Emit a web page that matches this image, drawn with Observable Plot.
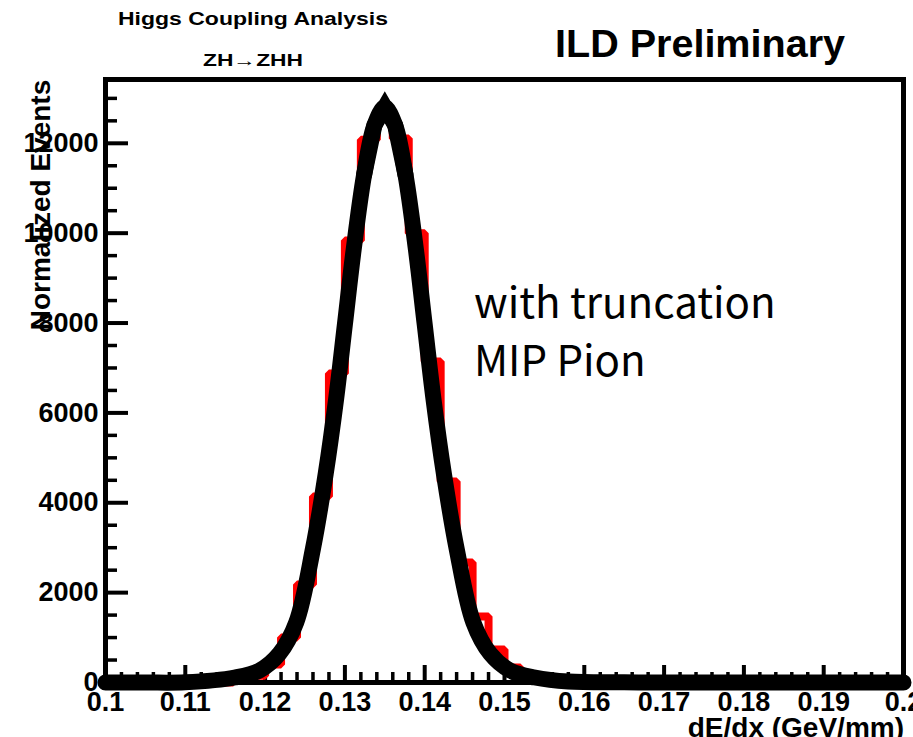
<!DOCTYPE html>
<html>
<head>
<meta charset="utf-8">
<script src="https://cdn.jsdelivr.net/npm/d3@7"></script>
<script src="https://cdn.jsdelivr.net/npm/@observablehq/plot@0.6"></script>
<style>
  html, body { margin: 0; padding: 0; background: white; }
  #wrap { position: relative; width: 913px; height: 737px; overflow: hidden; }
  #overlay { position: absolute; left: 0; top: 0; pointer-events: none; }
</style>
</head>
<body>
<div id="wrap"></div>
<script>
// ---- data ----
// red histogram: lower bin edges and bin contents (bin width 0.002)
const binLow   = [0.114, 0.116, 0.118, 0.120, 0.122, 0.124, 0.126, 0.128, 0.130, 0.132, 0.134, 0.136, 0.138, 0.140, 0.142, 0.144, 0.146, 0.148, 0.150, 0.152, 0.154, 0.156];
const binCount = [0,     50,    150,   400,   1000,  2180,  4139,  6876,  9835,  12080, 12706, 12105, 10000, 7143,  4472,  2670,  1469,  734,   334,   130,   50,    0];

// black Gaussian fit curve
const fitX = [0.100, 0.105, 0.110, 0.1162, 0.1193, 0.1218, 0.1239, 0.1260, 0.1276, 0.1289, 0.1300, 0.1311, 0.1324, 0.1337, 0.1350, 0.1363, 0.1376, 0.1389, 0.1400, 0.1411, 0.1424, 0.1440, 0.1461, 0.1482, 0.1507, 0.1538, 0.158, 0.165, 0.170, 0.200];
const fitY = [0,     0,     5,     111,    267,    644,    1335,   2980,   4650,   6310,   7970,   9635,   11290,  12400,  12800,  12400,  11290,  9635,   7970,   6310,   4650,   2980,   1335,   644,    267,    111,    20,    3,     0,     0];

// axis ticks and labels
const yMajor = [0, 2000, 4000, 6000, 8000, 10000, 12000];
const yMinor = [500, 1000, 1500, 2500, 3000, 3500, 4500, 5000, 5500, 6500, 7000, 7500, 8500, 9000, 9500, 10500, 11000, 11500, 12500, 13000];
const xMajor = [0.1, 0.11, 0.12, 0.13, 0.14, 0.15, 0.16, 0.17, 0.18, 0.19, 0.2];
const xMinor = [0.102, 0.104, 0.106, 0.108, 0.112, 0.114, 0.116, 0.118, 0.122, 0.124, 0.126, 0.128, 0.132, 0.134, 0.136, 0.138, 0.142, 0.144, 0.146, 0.148, 0.152, 0.154, 0.156, 0.158, 0.162, 0.164, 0.166, 0.168, 0.172, 0.174, 0.176, 0.178, 0.182, 0.184, 0.186, 0.188, 0.192, 0.194, 0.196, 0.198];

const titleTop = "Higgs Coupling Analysis";
const titleSub = "ZH\u2192ZHH";
const titleRight = "ILD Preliminary";
const yLabel = "Normalized Events";
const xLabel = "dE/dx (GeV/mm)";
const note1 = "with truncation";
const note2 = "MIP Pion";

// ---- build ----
const W = 913, H = 737;
const mL = 105, mR = 10, mT = 79, mB = 55;
const fw = W - mL - mR, fh = H - mT - mB;

const histPts = [{x: 0.1, y: 0}, ...binLow.map((x, i) => ({x, y: binCount[i]})), {x: 0.2, y: 0}];
const fitPts = fitX.map((x, i) => ({x, y: fitY[i]}));
// the polyline tip of the fit (its sampled apex), drawn straight so the top stays pointed
const peakIdx = fitY.indexOf(d3.max(fitY));
const tipPts = fitPts.slice(peakIdx - 2, peakIdx + 3);

const font = "'Liberation Sans', Arial, Helvetica, sans-serif";

const chart = Plot.plot({
  width: W, height: H,
  marginLeft: mL, marginRight: mR, marginTop: mT, marginBottom: mB,
  x: {domain: [0.1, 0.2]},
  y: {domain: [0, 13420]},
  style: {fontFamily: font, background: "white", color: "black", overflow: "visible"},
  marks: [
    Plot.tickY(yMajor, {y: d => d, stroke: "black", strokeWidth: 4, insetRight: fw - 23}),
    Plot.tickY(yMinor, {y: d => d, stroke: "black", strokeWidth: 3.5, insetRight: fw - 12}),
    Plot.tickX(xMajor, {x: d => d, stroke: "black", strokeWidth: 4, insetTop: fh - 17}),
    Plot.tickX(xMinor, {x: d => d, stroke: "black", strokeWidth: 3.5, insetTop: fh - 10}),
    Plot.axisY({ticks: yMajor, tickSize: 0, tickPadding: 7, fontSize: 27, fontWeight: "bold", tickFormat: d => String(d), label: null}),
    Plot.axisX({ticks: xMajor, tickSize: 0, tickPadding: 9, fontSize: 27, fontWeight: "bold", tickFormat: d => String(d), label: null}),
    Plot.line(histPts, {x: "x", y: "y", curve: "step-after", stroke: "#ff0000", strokeWidth: 8, strokeLinejoin: "miter"}),
    Plot.line(fitPts, {x: "x", y: "y", curve: "catmull-rom", stroke: "black", strokeWidth: 16, strokeLinejoin: "round"}),
    Plot.line(tipPts, {x: "x", y: "y", curve: "linear", stroke: "black", strokeWidth: 16, strokeLinejoin: "miter", strokeMiterlimit: 10}),
    Plot.frame({stroke: "black", strokeWidth: 5})
  ]
});

const wrap = document.getElementById("wrap");
wrap.appendChild(chart);

// text overlay
const ov = d3.select(wrap).append("svg").attr("id", "overlay").attr("width", W).attr("height", H);
function txt(x, y, s, size, weight, anchor, family, len) {
  const t = ov.append("text").attr("x", x).attr("y", y).attr("font-size", size)
    .attr("font-weight", weight).attr("text-anchor", anchor)
    .attr("font-family", family || font).attr("fill", "black").text(s);
  if (len) t.attr("textLength", len).attr("lengthAdjust", "spacingAndGlyphs");
  return t;
}
txt(253, 25, titleTop, 18, "bold", "middle", null, 270);
txt(253, 66, titleSub, 16, "bold", "middle", null, 100);
txt(555, 57, titleRight, 38, "bold", "start", null, 290);
txt(904, 737, xLabel, 28, "bold", "end");
ov.append("text").attr("transform", "translate(50,205) rotate(-90)")
  .attr("font-size", 28).attr("font-weight", "bold").attr("text-anchor", "middle")
  .attr("font-family", font).text(yLabel);
txt(474, 318, note1, 42, "normal", "start", "'Noto Sans CJK JP', 'Noto Sans', sans-serif");
txt(474, 376, note2, 42, "normal", "start", "'Noto Sans CJK JP', 'Noto Sans', sans-serif");
</script>
</body>
</html>
